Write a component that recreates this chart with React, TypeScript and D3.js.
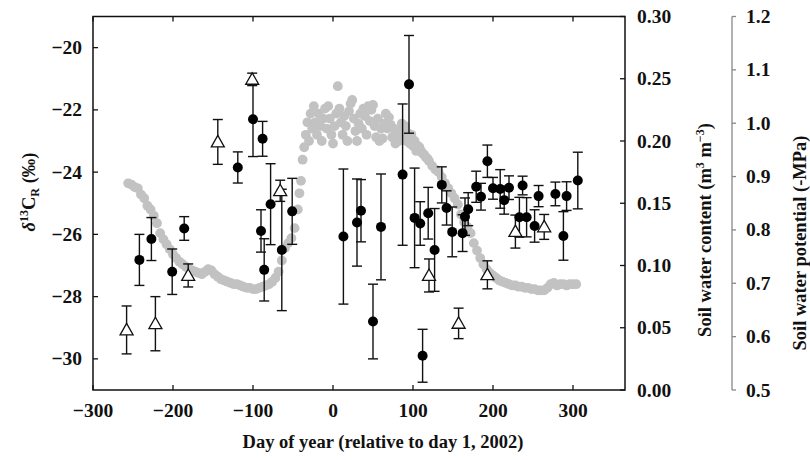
import React from 'react';
import * as d3 from 'd3';

// Soil water content (grey dots): [day relative to day 1 2002, m3 m-3]
const soilWater: [number, number][] = [
  [-256, 0.166], [-252, 0.165], [-248, 0.163], [-244, 0.162], [-240, 0.157], [-236, 0.154],
  [-232, 0.148], [-228, 0.145], [-224, 0.140], [-220, 0.134], [-216, 0.126], [-212, 0.121],
  [-208, 0.117], [-204, 0.113], [-200, 0.109], [-196, 0.106], [-192, 0.103], [-188, 0.101],
  [-184, 0.099], [-180, 0.097], [-176, 0.096], [-172, 0.095], [-168, 0.094], [-164, 0.093],
  [-160, 0.095], [-156, 0.097], [-152, 0.096], [-148, 0.093], [-144, 0.091], [-140, 0.089],
  [-136, 0.088], [-132, 0.087], [-128, 0.086], [-124, 0.085], [-120, 0.085], [-116, 0.084],
  [-112, 0.083], [-108, 0.082], [-104, 0.082], [-100, 0.081], [-96, 0.081], [-92, 0.082],
  [-88, 0.083], [-84, 0.084], [-80, 0.085], [-76, 0.087], [-72, 0.090], [-68, 0.095],
  [-64, 0.104], [-60, 0.114], [-56, 0.118], [-52, 0.122], [-48, 0.130], [-44, 0.145],
  [-42, 0.158], [-40, 0.168], [-38, 0.185], [-36, 0.195],
  [-34, 0.205], [-32, 0.215], [-30, 0.200], [-28, 0.222], [-26, 0.210], [-24, 0.228],
  [-22, 0.215], [-20, 0.205], [-18, 0.222], [-16, 0.212], [-14, 0.200], [-12, 0.218],
  [-10, 0.226], [-8, 0.210], [-6, 0.228], [-4, 0.218], [-2, 0.205], [0, 0.198],
  [2, 0.212], [4, 0.222], [6, 0.244], [8, 0.226], [10, 0.215], [12, 0.205],
  [14, 0.220], [16, 0.212], [18, 0.200], [20, 0.224], [22, 0.230], [24, 0.233],
  [26, 0.218], [28, 0.208], [30, 0.200], [32, 0.214], [34, 0.222], [36, 0.210],
  [38, 0.226], [40, 0.220], [42, 0.205], [44, 0.228], [46, 0.216], [48, 0.225],
  [50, 0.229], [52, 0.212], [54, 0.203], [56, 0.218], [58, 0.200], [60, 0.210],
  [62, 0.202], [64, 0.214], [66, 0.222], [68, 0.210], [70, 0.219], [72, 0.213],
  [74, 0.203], [76, 0.210], [78, 0.198], [80, 0.205], [82, 0.200], [84, 0.209],
  [86, 0.214], [88, 0.205], [90, 0.212], [92, 0.200], [94, 0.206], [96, 0.198],
  [98, 0.205], [100, 0.196], [102, 0.200], [104, 0.192], [106, 0.196], [108, 0.195],
  [110, 0.192], [112, 0.190], [114, 0.189], [116, 0.187], [118, 0.186], [120, 0.184],
  [124, 0.180], [128, 0.177], [132, 0.175], [136, 0.171], [140, 0.166], [144, 0.162],
  [148, 0.158], [152, 0.154], [156, 0.149], [160, 0.141], [164, 0.135], [168, 0.131],
  [172, 0.126], [176, 0.118], [180, 0.112], [184, 0.106], [188, 0.101], [192, 0.097],
  [196, 0.094], [200, 0.092], [204, 0.090], [208, 0.088], [212, 0.087], [216, 0.086],
  [220, 0.085], [224, 0.084], [228, 0.084], [232, 0.083], [236, 0.083], [240, 0.082],
  [244, 0.082], [248, 0.081], [252, 0.081], [256, 0.080], [260, 0.080], [264, 0.080],
  [268, 0.082], [272, 0.085], [276, 0.086], [280, 0.084], [284, 0.085], [288, 0.085],
  [292, 0.084], [296, 0.085], [300, 0.085], [304, 0.085],
];

// Filled circles: delta13C of ecosystem respiration
const circleDay = [-242, -227, -201, -186, -119, -100, -88, -90, -86, -78, -64, -51,
  13, 30, 35, 50, 60, 95, 87, 102, 109, 112, 119, 127, 136, 142, 149, 162, 165, 169,
  179, 185, 193, 200, 209, 214, 220, 233, 237, 242, 252, 257, 278, 292, 288, 306];
const circleD13C = [-26.82, -26.15, -27.20, -25.81, -23.85, -22.30, -22.93, -25.89, -27.14, -25.03, -26.50, -25.26,
  -26.07, -25.62, -25.24, -28.80, -25.76, -21.18, -24.08, -25.47, -25.65, -29.90, -25.32, -26.50, -24.41, -25.15, -25.92, -25.96, -25.43, -25.19,
  -24.47, -24.79, -23.65, -24.52, -24.54, -24.90, -24.50, -25.45, -24.43, -25.45, -25.73, -24.77, -24.70, -24.77, -26.05, -24.27];
const circleErr = [0.82, 0.69, 0.73, 0.38, 0.50, 1.20, 0.56, 0.68, 1.00, 1.30, 1.95, 1.06,
  2.17, 1.40, 1.00, 1.20, 1.70, 1.57, 2.27, 1.60, 0.70, 0.85, 0.83, 1.33, 0.58, 0.55, 0.80, 0.59, 0.60, 0.53,
  0.50, 0.43, 0.52, 0.35, 0.62, 0.45, 0.38, 0.64, 0.30, 0.63, 0.52, 0.34, 0.38, 0.46, 0.78, 0.91];

// Open triangles
const triDay = [-258, -222, -181, -144, -101, -66, 120, 157, 193, 228, 264];
const triD13C = [-29.07, -28.87, -27.32, -23.03, -21.02, -24.60, -27.32, -28.86, -27.30, -25.91, -25.76];
const triErr = [0.77, 0.87, 0.37, 0.72, 0.20, 0.34, 0.53, 0.49, 0.45, 0.53, 0.40];

const xTicks = [-300, -200, -100, 0, 100, 200, 300];
const yLeftTicks = [-30, -28, -26, -24, -22, -20];
const swcTicks = [0, 0.05, 0.1, 0.15, 0.2, 0.25, 0.3];
const mpaTicks = [0.5, 0.6, 0.7, 0.8, 0.9, 1.0, 1.1, 1.2];

const W = 810, H = 460;
const L = 93, R = 625, T = 16.5, B = 390;
const FONT = '"Liberation Serif", "Times New Roman", serif';

const minus = (s: string) => s.replace('-', '\u2212');

export default function App() {
  const x = d3.scaleLinear().domain([-300, 365]).range([L, R]);
  const yL = d3.scaleLinear().domain([-31, -19]).range([B, T]);
  const yS = d3.scaleLinear().domain([0, 0.3]).range([B, T]);
  const yM = d3.scaleLinear().domain([0.5, 1.2]).range([B, T]);
  const axis2X = 732;
  const tick = 5;
  const cap = 5;
  const triPath = (cx: number, cy: number) => {
    const s = 6.5;
    return `M${cx},${cy - s}L${cx + s},${cy + s * 0.75}L${cx - s},${cy + s * 0.75}Z`;
  };

  return (
    <svg width={W} height={H} style={{ position: 'absolute', left: 0, top: 0, background: '#fff' }}
      fontFamily={FONT} fontWeight="bold">
      <rect x={0} y={0} width={W} height={H} fill="#fff" />
      {/* grey soil water dots */}
      <g fill="#c2c2c2">
        {soilWater.map(([d, v], i) => (
          <circle key={i} cx={x(d)} cy={yS(v)} r={4.9} />
        ))}
      </g>
      {/* error bars */}
      <g stroke="#111" strokeWidth={1.4} fill="none">
        {circleDay.map((d, i) => {
          const cx = x(d), y1 = yL(circleD13C[i] + circleErr[i]), y2 = yL(circleD13C[i] - circleErr[i]);
          return (
            <g key={'ce' + i}>
              <line x1={cx} x2={cx} y1={y1} y2={y2} />
              <line x1={cx - cap} x2={cx + cap} y1={y1} y2={y1} />
              <line x1={cx - cap} x2={cx + cap} y1={y2} y2={y2} />
            </g>
          );
        })}
        {triDay.map((d, i) => {
          const cx = x(d), y1 = yL(triD13C[i] + triErr[i]), y2 = yL(triD13C[i] - triErr[i]);
          return (
            <g key={'te' + i}>
              <line x1={cx} x2={cx} y1={y1} y2={y2} />
              <line x1={cx - cap} x2={cx + cap} y1={y1} y2={y1} />
              <line x1={cx - cap} x2={cx + cap} y1={y2} y2={y2} />
            </g>
          );
        })}
      </g>
      {/* markers */}
      <g fill="#000">
        {circleDay.map((d, i) => (
          <circle key={'c' + i} cx={x(d)} cy={yL(circleD13C[i])} r={5} />
        ))}
      </g>
      <g fill="#fff" stroke="#111" strokeWidth={1.3}>
        {triDay.map((d, i) => (
          <path key={'t' + i} d={triPath(x(d), yL(triD13C[i]))} />
        ))}
      </g>
      {/* frame */}
      <rect x={L} y={T} width={R - L} height={B - T} fill="none" stroke="#111" strokeWidth={1.5} />
      {/* ticks */}
      <g stroke="#111" strokeWidth={1.3}>
        {xTicks.map((t) => (
          <g key={'xt' + t}>
            <line x1={x(t)} x2={x(t)} y1={B} y2={B - tick} />
            <line x1={x(t)} x2={x(t)} y1={T} y2={T + tick} />
          </g>
        ))}
        {yLeftTicks.map((t) => (
          <line key={'yt' + t} x1={L} x2={L + tick} y1={yL(t)} y2={yL(t)} />
        ))}
        {swcTicks.map((t) => (
          <line key={'st' + t} x1={R} x2={R - tick} y1={yS(t)} y2={yS(t)} />
        ))}
      </g>
      <g fontSize={19.5} fill="#111">
        {xTicks.map((t) => (
          <text key={'xl' + t} x={x(t)} y={417} textAnchor="middle">{minus(String(t))}</text>
        ))}
        {yLeftTicks.map((t) => (
          <text key={'yl' + t} x={82} y={yL(t) + 6.5} textAnchor="end">{minus(String(t))}</text>
        ))}
        {swcTicks.map((t) => (
          <text key={'sl' + t} x={637} y={yS(t) + 6.5} textAnchor="start">{t.toFixed(2)}</text>
        ))}
        {mpaTicks.map((t) => (
          <text key={'ml' + t} x={746} y={yM(t) + 6.5} textAnchor="start">{t.toFixed(1)}</text>
        ))}
      </g>
      {/* second right axis */}
      <g stroke="#888" strokeWidth={1.3}>
        <line x1={axis2X} x2={axis2X} y1={yM(1.2)} y2={yM(0.5)} />
        {mpaTicks.map((t) => (
          <line key={'mt' + t} x1={axis2X} x2={axis2X + 4} y1={yM(t)} y2={yM(t)} />
        ))}
      </g>
      {/* axis titles */}
      <text x={383} y={448} fontSize={18.5} textAnchor="middle" fill="#111">Day of year (relative to day 1, 2002)</text>
      <text transform="translate(35,192) rotate(-90)" fontSize={18.5} textAnchor="middle" fill="#111">
        <tspan fontStyle="italic">δ</tspan>
        <tspan dy={-7} fontSize={12}>13</tspan>
        <tspan dy={7}>C</tspan>
        <tspan dy={4} fontSize={12}>R</tspan>
        <tspan dy={-4}> (‰)</tspan>
      </text>
      <text transform="translate(711,230) rotate(-90)" fontSize={18.5} textAnchor="middle" fill="#111">
        <tspan>Soil water content (m</tspan>
        <tspan dy={-7} fontSize={12}>3</tspan>
        <tspan dy={7}> m</tspan>
        <tspan dy={-7} fontSize={12}>−3</tspan>
        <tspan dy={7}>)</tspan>
      </text>
      <text transform="translate(806,243) rotate(-90)" fontSize={18.5} textAnchor="middle" fill="#111">Soil water potential (-MPa)</text>
    </svg>
  );
}
